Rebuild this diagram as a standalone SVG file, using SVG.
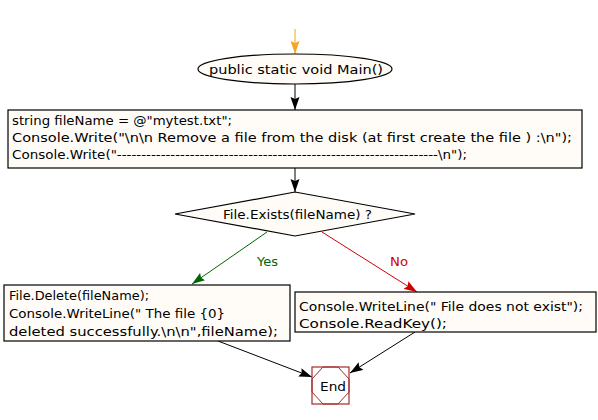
<svg xmlns="http://www.w3.org/2000/svg" width="598" height="420" viewBox="0 0 598 420">
<style>
.node{fill:#fffcf7;stroke:#000;stroke-width:1.2}
.t{font-family:"DejaVu Sans",sans-serif;font-size:13px;fill:#000}
.c{fill:none;stroke:#000;stroke-width:1}
</style>
<defs>
<marker id="ab" markerUnits="userSpaceOnUse" markerWidth="14" markerHeight="10" refX="13" refY="5" orient="auto" viewBox="0 0 14 10"><path d="M0,0.5 L13,5 L0,9.5 L2,5 Z" fill="#000"/></marker>
<marker id="ao" markerUnits="userSpaceOnUse" markerWidth="14" markerHeight="10" refX="13" refY="5" orient="auto" viewBox="0 0 14 10"><path d="M0,0.5 L13,5 L0,9.5 L2,5 Z" fill="#f5a623"/></marker>
<marker id="ag" markerUnits="userSpaceOnUse" markerWidth="14" markerHeight="10" refX="13" refY="5" orient="auto" viewBox="0 0 14 10"><path d="M0,0.5 L13,5 L0,9.5 L2,5 Z" fill="#006400"/></marker>
<marker id="ar" markerUnits="userSpaceOnUse" markerWidth="14" markerHeight="10" refX="13" refY="5" orient="auto" viewBox="0 0 14 10"><path d="M0,0.5 L13,5 L0,9.5 L2,5 Z" fill="#d00000"/></marker>
</defs>
<rect width="598" height="420" fill="#fff"/>
<g id="connectors">
<line x1="295" y1="29" x2="295" y2="54" stroke="#f5a623" stroke-width="1" marker-end="url(#ao)"/>
<line class="c" x1="295" y1="84" x2="295" y2="110" marker-end="url(#ab)"/>
<line class="c" x1="295" y1="168" x2="295" y2="192" marker-end="url(#ab)"/>
<line x1="267" y1="232" x2="192" y2="284" stroke="#006400" stroke-width="1" marker-end="url(#ag)"/>
<line x1="322" y1="232" x2="417" y2="292" stroke="#d00000" stroke-width="1" marker-end="url(#ar)"/>
<line class="c" x1="218" y1="341" x2="312" y2="377" marker-end="url(#ab)"/>
<line class="c" x1="415" y1="332" x2="350" y2="373" marker-end="url(#ab)"/>
<text class="t" x="257" y="266" style="fill:#006400" textLength="21" lengthAdjust="spacingAndGlyphs">Yes</text>
<text class="t" x="390" y="266" style="fill:#d00000" textLength="18" lengthAdjust="spacingAndGlyphs">No</text>
</g>
<g id="start">
<ellipse class="node" cx="295" cy="69" rx="97" ry="15"/>
<text class="t" x="209" y="74" textLength="174" lengthAdjust="spacingAndGlyphs">public static void Main()</text>
</g>
<g id="init">
<rect class="node" x="8" y="110" width="574" height="58"/>
<text class="t" x="12" y="125" textLength="220" lengthAdjust="spacingAndGlyphs">string fileName = @"mytest.txt";</text>
<text class="t" x="12" y="142" textLength="560" lengthAdjust="spacingAndGlyphs">Console.Write("\n\n Remove a file from the disk (at first create the file ) :\n");</text>
<text class="t" x="12" y="159" textLength="455" lengthAdjust="spacingAndGlyphs">Console.Write("------------------------------------------------------------------\n");</text>
</g>
<g id="decision">
<polygon class="node" points="295,192 415,214 295,236 175,214"/>
<text class="t" x="223" y="219" textLength="149" lengthAdjust="spacingAndGlyphs">File.Exists(fileName) ?</text>
</g>
<g id="delete">
<rect class="node" x="4" y="285" width="286" height="56"/>
<text class="t" x="9" y="300" textLength="140" lengthAdjust="spacingAndGlyphs">File.Delete(fileName);</text>
<text class="t" x="9" y="318" textLength="216" lengthAdjust="spacingAndGlyphs">Console.WriteLine(" The file {0}</text>
<text class="t" x="9" y="336" textLength="269" lengthAdjust="spacingAndGlyphs">deleted successfully.\n\n",fileName);</text>
</g>
<g id="notexist">
<rect class="node" x="295" y="292" width="301" height="40"/>
<text class="t" x="299" y="311" textLength="284" lengthAdjust="spacingAndGlyphs">Console.WriteLine(" File does not exist");</text>
<text class="t" x="299" y="328" textLength="148" lengthAdjust="spacingAndGlyphs">Console.ReadKey();</text>
</g>
<g id="end">
<rect x="312" y="367" width="37" height="37" fill="#fff" stroke="#a52a2a" stroke-width="1.2"/>
<polygon points="323,367 338,367 349,379 349,392 338,404 323,404 312,392 312,379" fill="none" stroke="#a52a2a" stroke-width="1"/>
<text class="t" x="320" y="391" textLength="26" lengthAdjust="spacingAndGlyphs">End</text>
</g>
</svg>
